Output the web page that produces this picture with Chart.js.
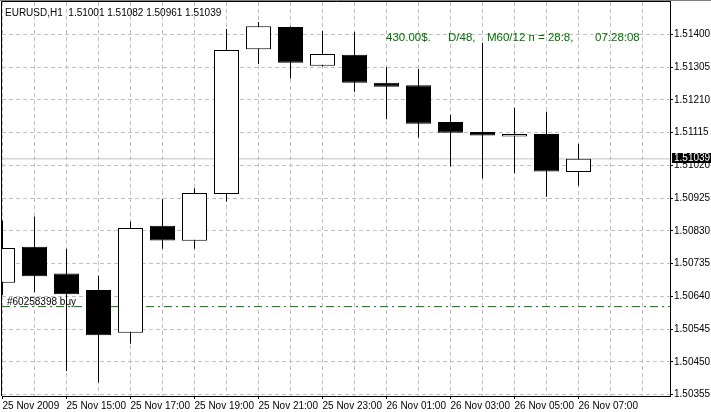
<!DOCTYPE html>
<html>
<head>
<meta charset="utf-8">
<script src="https://cdn.jsdelivr.net/npm/chart.js@4.4.0/dist/chart.umd.min.js"></script>
<style>
  html, body { margin: 0; padding: 0; background: #fff; }
  canvas { display: block; }
</style>
</head>
<body>
<canvas id="chart" width="711" height="412"></canvas>
<script>
// EURUSD H1, 25 Nov 2009 13:00 .. 26 Nov 2009 07:00
const symbolTitle = 'EURUSD,H1  1.51001 1.51082 1.50961 1.51039';
const infoParts = ['430.00$.', 'D/48,', 'M60/12 п = 28:8,', '07:28:08'];
const orderText = '#60258398 buy';

// one label every second bar
const timeLabels = [
    '25 Nov 2009', '25 Nov 15:00', '25 Nov 17:00', '25 Nov 19:00', '25 Nov 21:00',
    '25 Nov 23:00', '26 Nov 01:00', '26 Nov 03:00', '26 Nov 05:00', '26 Nov 07:00'
];

const opens  = [1.50679, 1.50784, 1.50706, 1.50658, 1.50534, 1.50845, 1.50801, 1.50937, 1.51357, 1.51422,
                1.51309, 1.51341, 1.51260, 1.51253, 1.51146, 1.51117, 1.51104, 1.51111, 1.51001];
const highs  = [1.50859, 1.50872, 1.50778, 1.50700, 1.50857, 1.50922, 1.50954, 1.51416, 1.51436, 1.51424,
                1.51410, 1.51407, 1.51305, 1.51300, 1.51166, 1.51376, 1.51187, 1.51176, 1.51082];
const lows   = [1.50643, 1.50652, 1.50423, 1.50390, 1.50502, 1.50778, 1.50778, 1.50915, 1.51314, 1.51272,
                1.51307, 1.51234, 1.51154, 1.51101, 1.51017, 1.50982, 1.50998, 1.50929, 1.50961];
const closes = [1.50780, 1.50698, 1.50646, 1.50527, 1.50838, 1.50802, 1.50940, 1.51355, 1.51424, 1.51318,
                1.51343, 1.51260, 1.51248, 1.51141, 1.51115, 1.51107, 1.51111, 1.51002, 1.51039];

const priceTicks = [1.50355, 1.50450, 1.50545, 1.50640, 1.50735, 1.50830,
                    1.50925, 1.51020, 1.51115, 1.51210, 1.51305, 1.51400];
const lastPrice = 1.51039;
const orderPrice = 1.50610;

const xMin = -1 / 64;
const xMax = xMin + 668 / 32;
const green = '#007000';

const bodies = opens.map((o, i) => ({ x: i, y: [o, closes[i]] }));
const wicks = lows.map((l, i) => ({ x: i, y: [l, highs[i]] }));
const bodyFill = opens.map((o, i) => closes[i] >= o ? '#ffffff' : '#000000');

Chart.defaults.font.family = '"Liberation Sans", Arial, sans-serif';
Chart.defaults.font.size = 10;
Chart.defaults.color = '#000';

const overlay = {
    id: 'overlay',
    afterDraw(chart) {
        const { ctx, chartArea: a, scales: { y } } = chart;
        ctx.save();
        ctx.fillStyle = '#808080';
        ctx.fillRect(0, 0, chart.width, 1);
        ctx.strokeStyle = '#000';
        ctx.lineWidth = 1;
        ctx.beginPath();
        ctx.moveTo(1.5, a.bottom);
        ctx.lineTo(1.5, 1.5);
        ctx.lineTo(a.right + 1, 1.5);
        ctx.stroke();

        ctx.textAlign = 'left';
        ctx.textBaseline = 'alphabetic';
        ctx.font = '10px "Liberation Sans", Arial, sans-serif';
        ctx.fillStyle = '#000';
        ctx.fillText(symbolTitle, 5, 16);

        const oy = y.getPixelForValue(orderPrice);
        ctx.fillText(orderText, a.left + 5, oy - 2);

        ctx.font = '11.5px "Liberation Sans", Arial, sans-serif';
        ctx.fillStyle = green;
        const infoX = [386, 448, 487, 595];
        infoParts.forEach((t, i) => ctx.fillText(t, infoX[i], 40.5));

        const py = Math.round(y.getPixelForValue(lastPrice));
        ctx.fillStyle = '#000';
        ctx.fillRect(a.right + 2, py - 6, chart.width - a.right - 2, 10);
        ctx.font = '10px "Liberation Sans", Arial, sans-serif';
        ctx.fillStyle = '#fff';
        ctx.textBaseline = 'middle';
        ctx.fillText(lastPrice.toFixed(5), a.right + 4, py - 1);
        ctx.restore();
    }
};

new Chart(
    document.getElementById('chart').getContext('2d'),
    {
        type: 'bar',
        data: {
            datasets: [
                {
                    type: 'line',
                    data: [{ x: xMin, y: lastPrice }, { x: xMax, y: lastPrice }],
                    borderColor: '#c0c0c0',
                    borderWidth: 1,
                    pointRadius: 0,
                    order: 4
                },
                {
                    type: 'line',
                    data: [{ x: xMin, y: orderPrice }, { x: xMax, y: orderPrice }],
                    borderColor: green,
                    borderWidth: 1,
                    borderDash: [8, 4, 2, 4],
                    pointRadius: 0,
                    order: 3
                },
                {
                    data: wicks,
                    backgroundColor: '#000',
                    borderWidth: 0,
                    grouped: false,
                    barThickness: 1,
                    maxBarThickness: 1,
                    inflateAmount: 0,
                    order: 2
                },
                {
                    data: bodies,
                    backgroundColor: bodyFill,
                    borderColor: '#000',
                    borderWidth: 1,
                    borderSkipped: false,
                    grouped: false,
                    barThickness: 25,
                    maxBarThickness: 25,
                    inflateAmount: 0,
                    order: 1
                }
            ]
        },
        options: {
            responsive: false,
            animation: false,
            layout: { padding: { top: 2, left: 2, right: 0, bottom: 0 } },
            scales: {
                x: {
                    type: 'linear',
                    offset: false,
                    min: xMin,
                    max: xMax,
                    afterBuildTicks: (scale) => {
                        scale.ticks = highs.concat([0, 0]).map((_, i) => ({ value: i }));
                    },
                    afterFit: (scale) => {
                        scale.height = 16;
                        scale.paddingLeft = 0;
                        scale.paddingRight = 0;
                    },
                    ticks: {
                        autoSkip: false,
                        maxRotation: 0,
                        minRotation: 0,
                        align: 'start',
                        padding: 1,
                        callback: (v) => (v % 2 === 0 && v / 2 < timeLabels.length) ? timeLabels[v / 2] : ''
                    },
                    grid: {
                        offset: false,
                        color: '#c0c0c0',
                        tickLength: 3,
                        tickColor: (c) => (c.tick && c.tick.value % 2 === 0 && c.tick.value / 2 < timeLabels.length) ? '#000' : 'rgba(0,0,0,0)'
                    },
                    border: { color: '#000', dash: [4, 3] }
                },
                y: {
                    type: 'linear',
                    position: 'right',
                    min: 1.503506,
                    max: 1.514943,
                    afterBuildTicks: (scale) => {
                        scale.ticks = priceTicks.map(v => ({ value: v }));
                    },
                    afterFit: (scale) => {
                        scale.width = 41;
                        scale.paddingTop = 0;
                        scale.paddingBottom = 0;
                    },
                    ticks: {
                        padding: 1,
                        callback: (v) => Number(v).toFixed(5)
                    },
                    grid: {
                        color: '#c0c0c0',
                        tickLength: 3,
                        tickColor: '#000'
                    },
                    border: { color: '#000', dash: [4, 3] }
                }
            },
            plugins: {
                legend: { display: false },
                tooltip: { enabled: false },
                title: { display: false }
            }
        },
        plugins: [overlay]
    }
);
</script>
</body>
</html>
